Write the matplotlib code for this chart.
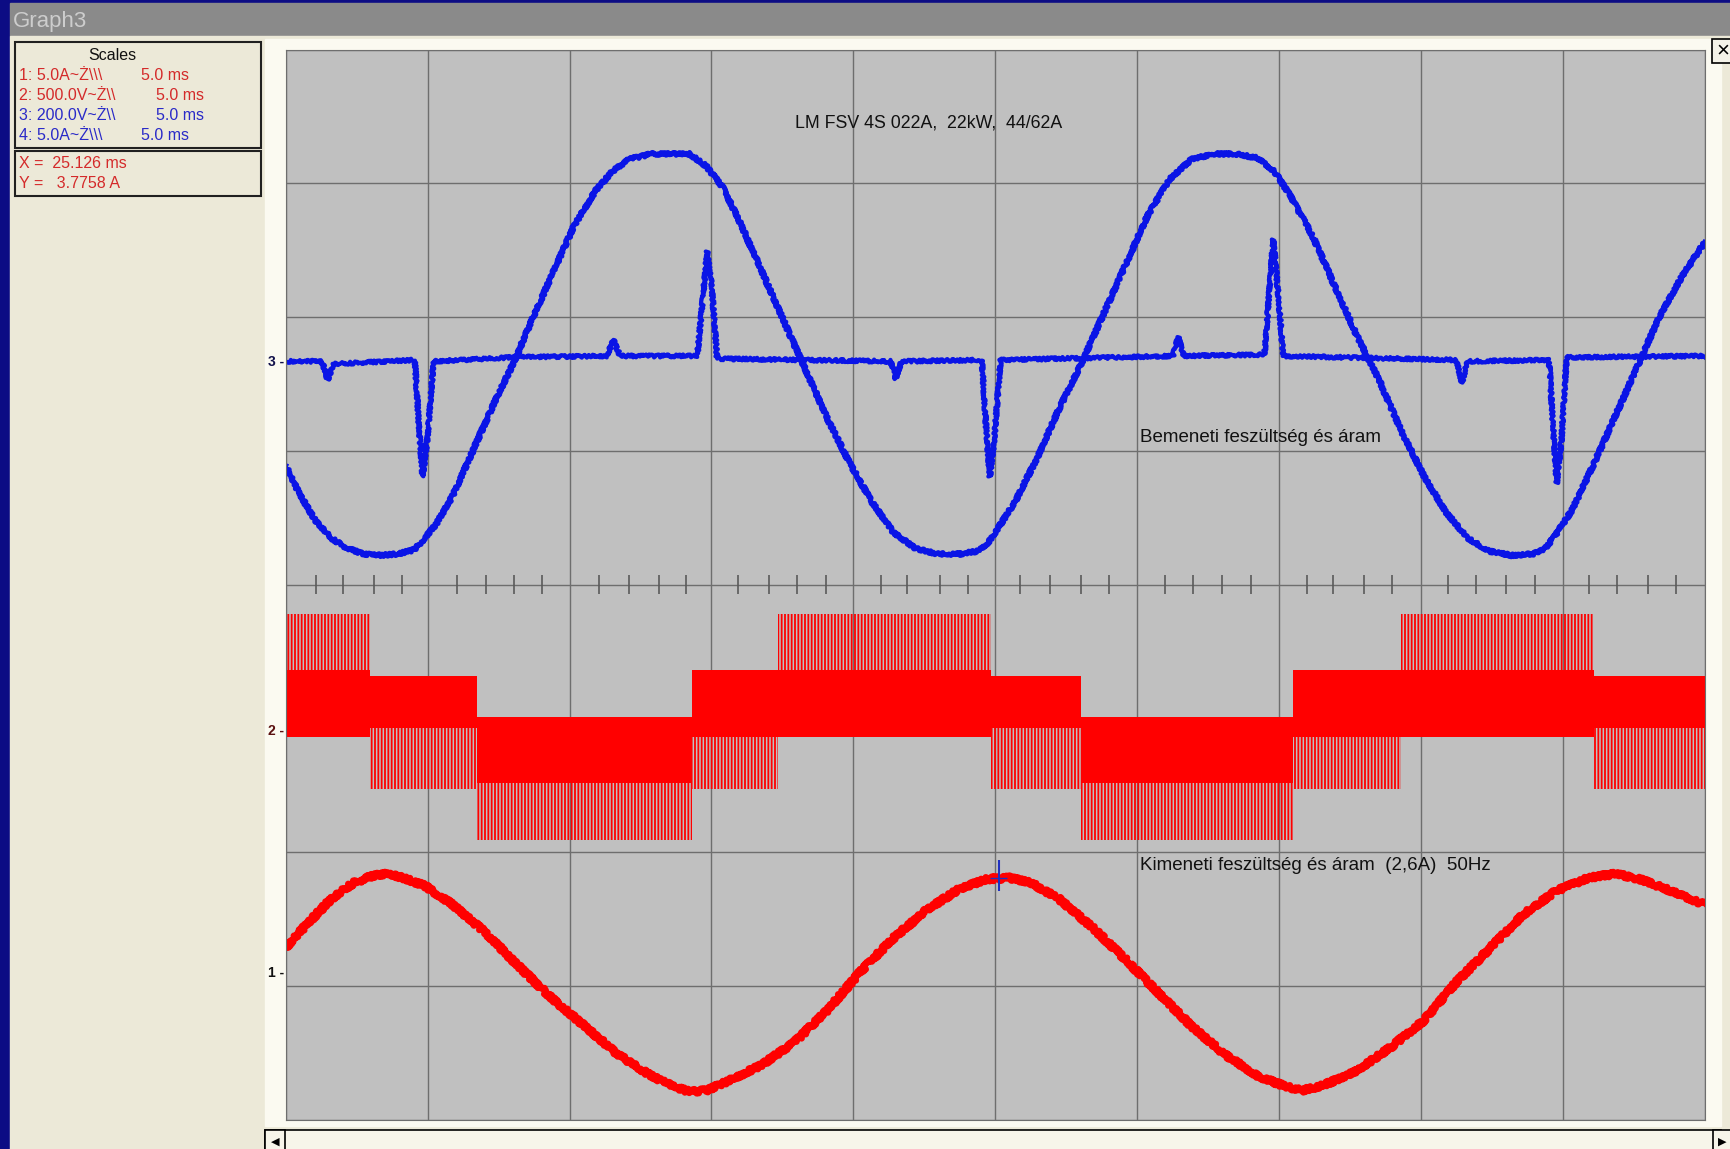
import numpy as np
import matplotlib.pyplot as plt
from matplotlib.patches import Rectangle

# time in ms (10 div x 5 ms), amplitude in screen divisions (0 = bottom, 8 = top)

# channel 3 - input voltage (blue)
u_in_t = [0.00, 0.43, 1.01, 1.59, 2.18, 2.76, 3.34, 3.93, 4.51, 4.82, 5.29, 5.87, 6.65, 7.43, 8.01,
          8.59, 9.37, 10.15, 10.93, 11.51, 12.09, 12.87, 13.65, 14.23, 14.81, 15.40, 15.98, 16.76,
          17.53, 18.31, 19.09, 19.87, 20.65, 21.42, 22.20, 22.98, 23.76, 24.34, 24.73, 25.12, 25.70,
          26.48, 27.26, 28.03, 28.81, 29.59, 30.37, 31.14, 31.92, 32.70, 33.48, 34.25, 34.84, 35.42,
          36.20, 36.97, 37.75, 38.53, 39.31, 40.09, 40.86, 41.64, 42.42, 43.20, 43.97, 44.36, 44.75,
          45.33, 46.11, 46.89, 47.67, 48.44, 49.22, 50.00]
u_in_v = [4.89, 4.70, 4.49, 4.35, 4.27, 4.23, 4.22, 4.23, 4.26, 4.33, 4.45, 4.66, 5.03, 5.40, 5.65,
          5.94, 6.31, 6.68, 6.95, 7.09, 7.18, 7.22, 7.22, 7.22, 7.13, 6.97, 6.72, 6.35,
          5.98, 5.61, 5.24, 4.91, 4.62, 4.39, 4.27, 4.23, 4.23, 4.25, 4.31, 4.43, 4.62,
          4.95, 5.32, 5.65, 6.02, 6.39, 6.76, 7.03, 7.18, 7.22, 7.22, 7.19, 7.09, 6.90,
          6.60, 6.23, 5.86, 5.53, 5.15, 4.82, 4.55, 4.35, 4.25, 4.22, 4.23, 4.27, 4.37,
          4.56, 4.91, 5.28, 5.65, 6.02, 6.31, 6.56]

# channel 4 - input current (blue)
i_in_t = [0.00, 1.28, 1.48, 1.67, 4.55, 4.70, 4.82, 4.98, 5.21, 8.00, 11.31, 11.55, 11.78, 14.50,
          14.66, 14.85, 15.01, 15.20, 21.31, 21.50, 21.69, 24.53, 24.69, 24.81, 24.96, 25.19,
          31.26, 31.45, 31.65, 34.49, 34.64, 34.80, 34.95, 35.15, 41.25, 41.45, 41.64, 44.52,
          44.67, 44.79, 44.95, 45.14, 50.00]
i_in_v = [5.67, 5.67, 5.53, 5.65, 5.68, 5.15, 4.81, 5.07, 5.67, 5.70, 5.71, 5.83, 5.71, 5.71,
          6.06, 6.49, 6.23, 5.69, 5.67, 5.54, 5.67, 5.68, 5.15, 4.81, 5.07, 5.68,
          5.71, 5.85, 5.71, 5.72, 6.14, 6.58, 6.23, 5.71, 5.68, 5.51, 5.67, 5.68,
          5.15, 4.76, 5.07, 5.70, 5.71]

# channel 1 - output current (red)
i_out_t = [0.00, 0.82, 1.59, 2.37, 3.15, 3.54, 4.12, 4.90, 5.87, 7.04, 8.20, 9.37, 10.54, 11.70,
           12.87, 13.65, 14.23, 14.81, 15.59, 16.76, 17.92, 19.09, 20.26, 21.42, 22.59, 23.76,
           24.73, 25.51, 26.28, 27.26, 28.42, 29.59, 30.75, 31.92, 33.09, 34.25, 35.23, 35.81,
           36.59, 37.75, 38.92, 40.09, 41.25, 42.42, 43.58, 44.75, 45.92, 46.89, 47.86, 48.83, 50.00]
i_out_v = [1.29, 1.48, 1.65, 1.77, 1.83, 1.84, 1.81, 1.75, 1.61, 1.40, 1.15, 0.91, 0.70, 0.49,
           0.33, 0.25, 0.21, 0.22, 0.29, 0.41, 0.58, 0.82, 1.11, 1.36, 1.57, 1.73,
           1.80, 1.81, 1.77, 1.65, 1.44, 1.20, 0.95, 0.70, 0.49, 0.33, 0.25, 0.22,
           0.26, 0.37, 0.54, 0.74, 1.03, 1.28, 1.53, 1.71, 1.81, 1.84, 1.79, 1.71, 1.61]

# channel 2 - output PWM voltage (red): segment edges and band limits
pwm_edges = [0.00, 2.95, 6.73, 14.31, 17.34, 24.84, 28.03, 35.50, 39.31, 46.11, 50.00]
pwm_dense_hi = [3.36, 3.32, 3.01, 3.36, 3.36, 3.32, 3.01, 3.36, 3.36, 3.32]
pwm_dense_lo = [2.86, 2.93, 2.52, 2.86, 2.86, 2.93, 2.52, 2.86, 2.86, 2.93]
pwm_spike_hi = [3.78, 3.32, 3.01, 3.36, 3.78, 3.32, 3.01, 3.36, 3.78, 3.32]
pwm_spike_lo = [2.86, 2.47, 2.09, 2.47, 2.86, 2.47, 2.09, 2.47, 2.86, 2.47]

# small marks on the centre line
mark_t = [1.05, 2.02, 3.11, 4.08, 6.03, 7.04, 8.05, 9.02, 11.04, 12.09, 13.14, 14.11, 15.94, 17.03,
          18.00, 19.05, 20.96, 21.89, 23.06, 24.03, 25.89, 26.94, 28.03, 29.00, 30.99, 31.96,
          33.01, 34.02, 36.00, 36.90, 37.99, 39.00, 40.94, 41.95, 43.00, 44.01, 45.92, 46.93,
          48.02, 48.99]

cursor_t = 25.126
scale_lines = ["1: 5.0A~Ż\\\\\\", "2: 500.0V~Ż\\\\", "3: 200.0V~Ż\\\\", "4: 5.0A~Ż\\\\\\"]
scale_time = ["5.0 ms", "5.0 ms", "5.0 ms", "5.0 ms"]

RED = "#ff0000"
BLUE = "#0a14e6"
TXT_RED = "#d42a2a"
TXT_BLUE = "#2a2ac8"
FONT = ["Liberation Sans", "DejaVu Sans"]

W, H = 1730, 1149
fig = plt.figure(figsize=(W / 100, H / 100), dpi=100, facecolor="#0c0c84")

# window chrome in pixel coordinates
bg = fig.add_axes([0, 0, 1, 1])
bg.set_xlim(0, W)
bg.set_ylim(H, 0)
bg.axis("off")
bg.add_patch(Rectangle((10, 3), W - 10, 33, color="#8a8a8a"))
bg.add_patch(Rectangle((10, 36), W - 10, H - 36, color="#ece9d8"))
bg.add_patch(Rectangle((265, 39), 1456, 1087, color="#fbfaf1"))
bg.text(13, 21, "Graph3", fontsize=16, color="#cdcdcd", va="center", family=FONT)

# close button
bg.add_patch(Rectangle((1712, 39), 20, 24, facecolor="#f4f2e8", edgecolor="black", lw=1.2))
bg.text(1723, 51, "×", fontsize=16, ha="center", va="center", color="black", family=FONT)

# scroll bar
bg.add_patch(Rectangle((265, 1130), 1456, 22, facecolor="#f7f5ea", edgecolor="black", lw=1.2))
bg.add_patch(Rectangle((265, 1130), 20, 22, facecolor="#f7f5ea", edgecolor="black", lw=1.2))
bg.add_patch(Rectangle((1713, 1130), 20, 22, facecolor="#f7f5ea", edgecolor="black", lw=1.2))
bg.text(275, 1142, "◀", fontsize=8, ha="center", va="center", color="black")
bg.text(1722, 1142, "▶", fontsize=8, ha="center", va="center", color="black")

# scales box
bg.add_patch(Rectangle((15, 42), 246, 106, fill=False, edgecolor="#202020", lw=1.5))
bg.add_patch(Rectangle((15, 151), 246, 45, fill=False, edgecolor="#202020", lw=1.5))
bg.text(112, 56, "Scales", fontsize=11.5, ha="center", va="center", color="#111111", family=FONT)
colors = [TXT_RED, TXT_RED, TXT_BLUE, TXT_BLUE]
ys = [75, 95, 116, 136]
tx = [141, 156, 156, 141]
for s, t, c, y, x in zip(scale_lines, scale_time, colors, ys, tx):
    bg.text(19, y, s, fontsize=11.5, va="center", color=c, family=FONT)
    bg.text(x, y, t, fontsize=11.5, va="center", color=c, family=FONT)
bg.text(19, 163, "X =  25.126 ms", fontsize=11.5, va="center", color=TXT_RED, family=FONT)
bg.text(19, 184, "Y =   3.7758 A", fontsize=11.5, va="center", color=TXT_RED, family=FONT)

# channel markers
for lab, y, c in [("3", 362, "#10104a"), ("2", 731, "#5a1010"), ("1", 973, "#111111")]:
    bg.text(284, y, lab + " -", fontsize=10, ha="right", va="center", color=c,
            family=FONT, fontweight="bold")

# scope screen
x0, x1, y0, y1 = 285.8, 1704.6, 49.6, 1119.9
ax = fig.add_axes([x0 / W, 1 - y1 / H, (x1 - x0) / W, (y1 - y0) / H])
ax.set_facecolor("#c0c0c0")
ax.set_xlim(0, 50)
ax.set_ylim(0, 8)
ax.set_xticks(np.arange(0, 51, 5))
ax.set_yticks(np.arange(0, 9, 1))
ax.tick_params(length=0, labelbottom=False, labelleft=False)
ax.grid(True, color="#6e6e6e", lw=1.0)
ax.set_axisbelow(True)
for sp in ax.spines.values():
    sp.set_color("#6e6e6e")

ax.vlines(mark_t, 3.93, 4.07, color="#5a5a5a", lw=1.2)

plt.rcParams["hatch.linewidth"] = 1.3
for i in range(len(pwm_dense_hi)):
    a, b = pwm_edges[i], pwm_edges[i + 1]
    ax.fill_between([a, b], pwm_dense_lo[i], pwm_dense_hi[i], color=RED, lw=0)
    if pwm_spike_hi[i] > pwm_dense_hi[i] + 0.01:
        ax.fill_between([a, b], pwm_dense_hi[i], pwm_spike_hi[i], facecolor="none",
                        edgecolor=RED, hatch="|||||", lw=0)
    if pwm_spike_lo[i] < pwm_dense_lo[i] - 0.01:
        ax.fill_between([a, b], pwm_spike_lo[i], pwm_dense_lo[i], facecolor="none",
                        edgecolor=RED, hatch="|||||", lw=0)

# scope noise look via sketch style
l1, = ax.plot(u_in_t, u_in_v, color=BLUE, lw=3.6, solid_joinstyle="round")
l2, = ax.plot(i_in_t, i_in_v, color=BLUE, lw=3.0, solid_joinstyle="round")
l3, = ax.plot(i_out_t, i_out_v, color=RED, lw=4.8, solid_joinstyle="round")
for ln, sc in [(l1, 1.5), (l2, 1.5), (l3, 2.2)]:
    ln.set_sketch_params(scale=sc, length=2.5, randomness=3)

# cursor
ax.vlines(cursor_t, 1.71, 1.94, color="#2030c0", lw=1.5)
ax.hlines(1.81, cursor_t - 0.3, cursor_t + 0.3, color="#2030c0", lw=1.0)

ax.text(22.65, 7.45, "LM FSV 4S 022A,  22kW,  44/62A", fontsize=12.8, ha="center", va="center",
        color="#111111", family=FONT)
ax.text(30.09, 5.10, "Bemeneti feszültség és áram", fontsize=13.5, va="center",
        color="#111111", family=FONT)
ax.text(30.09, 1.905, "Kimeneti feszültség és áram  (2,6A)  50Hz", fontsize=13.5, va="center",
        color="#111111", family=FONT)

fig.savefig("out.png", dpi=100, facecolor=fig.get_facecolor())
